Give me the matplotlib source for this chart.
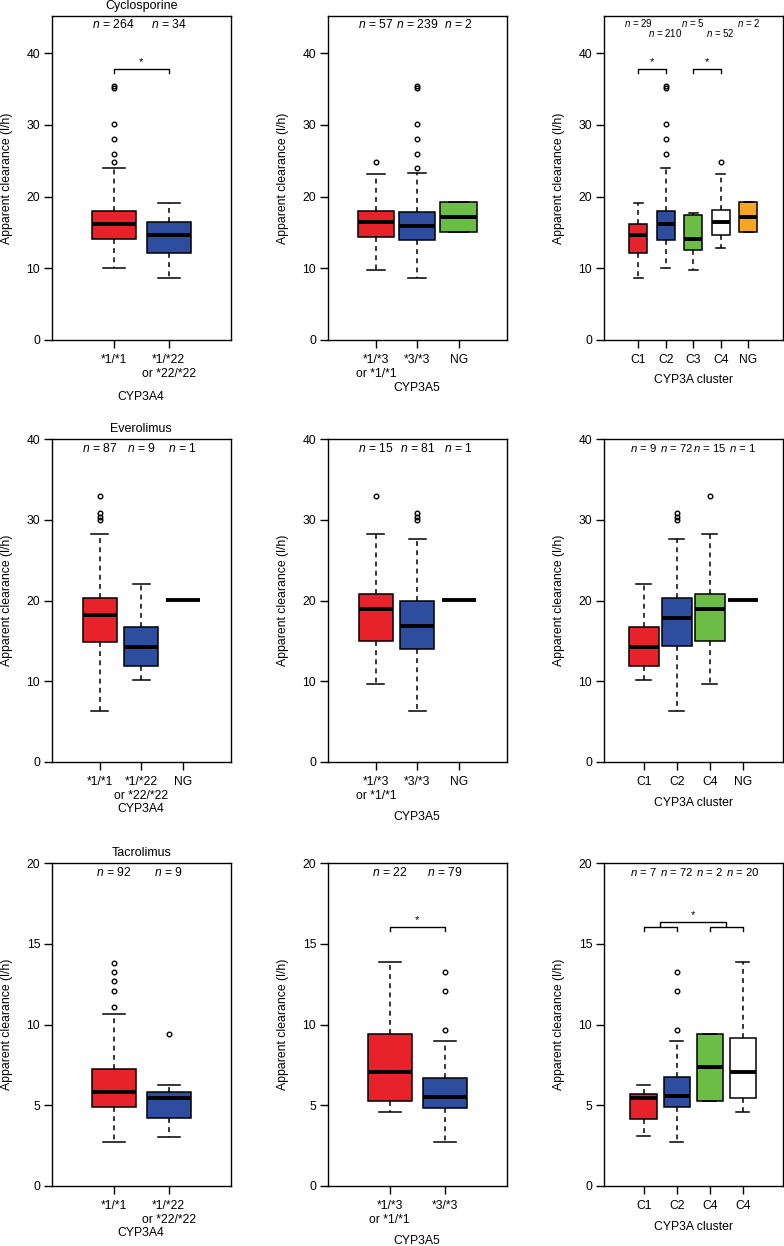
import matplotlib
matplotlib.use('Agg')
import matplotlib.pyplot as plt

plt.rcParams['font.family'] = ['Liberation Sans', 'DejaVu Sans']
plt.rcParams['mathtext.fontset'] = 'custom'
plt.rcParams['mathtext.it'] = 'Liberation Sans:italic'
plt.rcParams['mathtext.rm'] = 'Liberation Sans'

RED = '#e8222a'
BLUE = '#2e4d9e'
GREEN = '#6bbd45'
ORANGE = '#f5a623'
WHITE = '#ffffff'

########## DATOS ##########
# cada caja: [whislo, q1, mediana, q3, whishi]

# Cyclosporine
cyc_a4_labels = ['*1/*1', '*1/*22\nor *22/*22']
cyc_a4_n = [264, 34]
cyc_a4_box = [[10.1, 14.1, 16.2, 18.0, 24.0],
              [8.7, 12.1, 14.65, 16.4, 19.1]]
cyc_a4_out = [[24.9, 26.0, 28.0, 30.1, 35.2, 35.4], []]

cyc_a5_labels = ['*1/*3\nor *1/*1', '*3/*3', 'NG']
cyc_a5_n = [57, 239, 2]
cyc_a5_box = [[9.7, 14.3, 16.4, 18.0, 23.1],
              [8.7, 13.9, 15.95, 17.9, 23.35],
              [15.1, 15.1, 17.1, 19.2, 19.2]]
cyc_a5_out = [[24.8], [24.0, 26.0, 28.0, 30.1, 35.2, 35.4], []]

cyc_cl_labels = ['C1', 'C2', 'C3', 'C4', 'NG']
cyc_cl_n = [29, 210, 5, 52, 2]
cyc_cl_box = [[8.7, 12.1, 14.65, 16.2, 19.1],
              [10.1, 13.95, 16.2, 18.0, 24.0],
              [9.7, 12.6, 14.05, 17.5, 17.7],
              [12.8, 14.65, 16.5, 18.1, 23.1],
              [15.1, 15.1, 17.1, 19.2, 19.2]]
cyc_cl_out = [[], [26.0, 28.0, 30.1, 35.2, 35.4], [], [24.8], []]

# Everolimus
eve_a4_labels = ['*1/*1', '*1/*22\nor *22/*22', 'NG']
eve_a4_n = [87, 9, 1]
eve_a4_box = [[6.3, 14.8, 18.2, 20.35, 28.25],
              [10.1, 11.9, 14.2, 16.75, 22.1],
              [20.1, 20.1, 20.1, 20.1, 20.1]]
eve_a4_out = [[30.0, 30.4, 30.8, 33.0], [], []]

eve_a5_labels = ['*1/*3\nor *1/*1', '*3/*3', 'NG']
eve_a5_n = [15, 81, 1]
eve_a5_box = [[9.6, 15.0, 18.95, 20.8, 28.25],
              [6.3, 14.05, 16.85, 19.95, 27.6],
              [20.1, 20.1, 20.1, 20.1, 20.1]]
eve_a5_out = [[33.0], [30.0, 30.4, 30.8], []]

eve_cl_labels = ['C1', 'C2', 'C4', 'NG']
eve_cl_n = [9, 72, 15, 1]
eve_cl_box = [[10.1, 11.9, 14.2, 16.75, 22.1],
              [6.3, 14.4, 17.8, 20.27, 27.6],
              [9.6, 15.0, 18.95, 20.8, 28.25],
              [20.1, 20.1, 20.1, 20.1, 20.1]]
eve_cl_out = [[], [30.0, 30.4, 30.8], [33.0], []]

# Tacrolimus
tac_a4_labels = ['*1/*1', '*1/*22\nor *22/*22']
tac_a4_n = [92, 9]
tac_a4_box = [[2.7, 4.92, 5.85, 7.23, 10.64],
              [3.06, 4.19, 5.43, 5.85, 6.26]]
tac_a4_out = [[11.1, 12.1, 12.7, 13.24, 13.8], [9.42]]

tac_a5_labels = ['*1/*3\nor *1/*1', '*3/*3']
tac_a5_n = [22, 79]
tac_a5_box = [[4.57, 5.27, 7.05, 9.42, 13.84],
              [2.7, 4.81, 5.54, 6.67, 9.0]]
tac_a5_out = [[], [9.67, 12.09, 13.24]]

tac_cl_labels = ['C1', 'C2', 'C4', 'C4']
tac_cl_n = [7, 72, 2, 20]
tac_cl_box = [[3.1, 4.13, 5.47, 5.7, 6.26],
              [2.7, 4.88, 5.58, 6.78, 9.0],
              [5.27, 5.27, 7.36, 9.42, 9.42],
              [4.57, 5.47, 7.05, 9.15, 13.84]]
tac_cl_out = [[], [9.67, 12.09, 13.24], [], []]

# corchetes de significancia: (grupo1, grupo2, altura) y asteriscos (x, altura)
cyc_a4_sig = [(1, 2, 37.8)]
cyc_a4_star = [(1.5, 37.8)]
cyc_cl_sig = [(1, 2, 37.8), (3, 4, 37.8)]
cyc_cl_star = [(1.5, 37.8), (3.5, 37.8)]
tac_a5_sig = [(1, 2, 16.03)]
tac_a5_star = [(1.5, 16.03)]
tac_cl_sig = [(1, 2, 16.03), (3, 4, 16.03), (1.5, 3.5, 16.32)]
tac_cl_star = [(2.5, 16.32)]

colors2 = [RED, BLUE]
colors3 = [RED, BLUE, GREEN]
colors_cyc_cl = [RED, BLUE, GREEN, WHITE, ORANGE]
colors_eve_cl = [RED, BLUE, GREEN, WHITE]
colors_tac_cl = [RED, BLUE, GREEN, WHITE]

panels = [
    # fila 1
    dict(title='Cyclosporine', labels=cyc_a4_labels, n=cyc_a4_n, box=cyc_a4_box, out=cyc_a4_out,
         colors=colors2, xlabel='CYP3A4', sig=cyc_a4_sig, star=cyc_a4_star),
    dict(title='', labels=cyc_a5_labels, n=cyc_a5_n, box=cyc_a5_box, out=cyc_a5_out,
         colors=colors3, xlabel='CYP3A5', sig=[], star=[]),
    dict(title='', labels=cyc_cl_labels, n=cyc_cl_n, box=cyc_cl_box, out=cyc_cl_out,
         colors=colors_cyc_cl, xlabel='CYP3A cluster', sig=cyc_cl_sig, star=cyc_cl_star),
    # fila 2
    dict(title='Everolimus', labels=eve_a4_labels, n=eve_a4_n, box=eve_a4_box, out=eve_a4_out,
         colors=colors3, xlabel='CYP3A4', sig=[], star=[]),
    dict(title='', labels=eve_a5_labels, n=eve_a5_n, box=eve_a5_box, out=eve_a5_out,
         colors=colors3, xlabel='CYP3A5', sig=[], star=[]),
    dict(title='', labels=eve_cl_labels, n=eve_cl_n, box=eve_cl_box, out=eve_cl_out,
         colors=colors_eve_cl, xlabel='CYP3A cluster', sig=[], star=[]),
    # fila 3
    dict(title='Tacrolimus', labels=tac_a4_labels, n=tac_a4_n, box=tac_a4_box, out=tac_a4_out,
         colors=colors2, xlabel='CYP3A4', sig=[], star=[]),
    dict(title='', labels=tac_a5_labels, n=tac_a5_n, box=tac_a5_box, out=tac_a5_out,
         colors=colors2, xlabel='CYP3A5', sig=tac_a5_sig, star=tac_a5_star),
    dict(title='', labels=tac_cl_labels, n=tac_cl_n, box=tac_cl_box, out=tac_cl_out,
         colors=colors_tac_cl, xlabel='CYP3A cluster', sig=tac_cl_sig, star=tac_cl_star),
]

########## DISPOSICION (pixeles) ##########
W, H = 784, 1246
col_left = [52, 328, 604]
ax_w = 178.5
row_top = [16, 439, 863]
row_bot = [340, 762, 1186]
row_ylim = [45.2, 40, 20]
row_yticks = [[0, 10, 20, 30, 40], [0, 10, 20, 30, 40], [0, 5, 10, 15, 20]]
box_w = [0.8, 0.88, 0.65, 0.82, 0.82, 0.9, 0.8, 0.8, 0.8]
xlab_off = [57, 48, 40, 47, 55, 41, 47, 55, 41]

fig = plt.figure(figsize=(W / 100, H / 100), dpi=100)

for i, p in enumerate(panels):
    r, c = divmod(i, 3)
    h = row_bot[r] - row_top[r]
    ax = fig.add_axes([col_left[c] / W, 1 - row_bot[r] / H, ax_w / W, h / H])
    k = len(p['labels'])
    pos = list(range(1, k + 1))

    stats = []
    for b, o in zip(p['box'], p['out']):
        stats.append(dict(whislo=b[0], q1=b[1], med=b[2], q3=b[3], whishi=b[4], fliers=o))

    bp = ax.bxp(stats, positions=pos, widths=box_w[i], patch_artist=True,
                capwidths=box_w[i] / 2,
                boxprops=dict(linewidth=1.1, edgecolor='black'),
                medianprops=dict(color='black', linewidth=2.8, solid_capstyle='butt'),
                whiskerprops=dict(color='black', linewidth=1.1, linestyle=(0, (3.2, 2.8))),
                capprops=dict(color='black', linewidth=1.1),
                flierprops=dict(marker='o', markersize=3.3, markerfacecolor='none',
                                markeredgecolor='black', markeredgewidth=1.0))
    for patch, col in zip(bp['boxes'], p['colors']):
        patch.set_facecolor(col)

    ax.set_xlim(-0.04 * (k + 1), 1.04 * (k + 1))
    ax.set_ylim(0, row_ylim[r])
    ax.set_yticks(row_yticks[r])
    ax.set_xticks(pos)
    ax.set_xticklabels(p['labels'])
    ax.tick_params(axis='both', direction='out', length=5.5, width=1.0, labelsize=8.7)
    ax.tick_params(axis='x', pad=4.5)
    ax.tick_params(axis='y', pad=3)
    for s in ax.spines.values():
        s.set_linewidth(1.0)

    ax.set_ylabel('Apparent clearance (l/h)', fontsize=8.8)
    ax.yaxis.set_label_coords(-45 / ax_w, 0.5)
    ax.yaxis.label.set_va('center')
    ax.set_xlabel(p['xlabel'], fontsize=8.8)
    ax.xaxis.set_label_coords(0.5, -xlab_off[i] / h)
    ax.xaxis.label.set_va('center')

    if p['title']:
        ax.text(0.5, 1 + 10 / h, p['title'], transform=ax.transAxes,
                ha='center', va='center', fontsize=9)

    # etiquetas n
    for j, nv in enumerate(p['n']):
        if k == 5:
            dy = 7 if j % 2 == 0 else 17
            fs = 7
        elif k == 4:
            dy = 9
            fs = 8.2
        else:
            dy = 9
            fs = 8.7
        ax.text(pos[j], 1 - dy / h, '$n$ = %d' % nv, transform=ax.get_xaxis_transform(),
                ha='center', va='center', fontsize=fs)

    # corchetes
    upp = row_ylim[r] / h  # unidades por pixel
    for x1, x2, y in p['sig']:
        d = 4 * upp
        ax.plot([x1, x1, x2, x2], [y - d, y, y, y - d], color='black', lw=1.0)
    for x, y in p['star']:
        ax.text(x, y + 4 * upp, '*', ha='center', va='baseline', fontsize=8)

fig.savefig('out.png', dpi=100)
